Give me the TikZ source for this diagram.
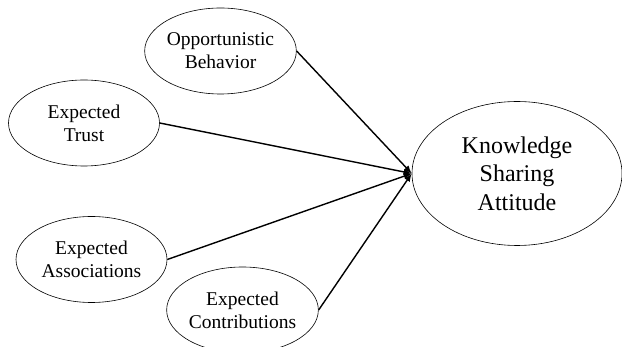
\documentclass[tikz,border=0pt]{standalone}
\usepackage{fontspec}
\setmainfont{Liberation Serif}
\usetikzlibrary{shapes.geometric,arrows.meta}
\begin{document}
\begin{tikzpicture}[x=1pt,y=-1pt,
  oval/.style={ellipse,draw,line width=0.6pt,inner sep=0pt,align=center,font=\fontsize{19.5}{23}\selectfont,minimum width=151pt,minimum height=86pt},
  bigoval/.style={ellipse,draw,line width=0.6pt,inner sep=0pt,align=center,font=\fontsize{24}{28.5}\selectfont,minimum width=210pt,minimum height=144pt},
  link/.style={line width=1.4pt,-{Latex[length=8pt,width=6.5pt]}}]
\useasboundingbox (0,0) rectangle (622,347);
\node[oval] (ob) at (220.5,51) {Opportunistic\\Behavior};
\node[oval] (et) at (84,123) {Expected\\Trust};
\node[oval] (ea) at (91.5,259.5) {Expected\\Associations};
\node[oval] (ec) at (242.5,310) {Expected\\Contributions};
\node[bigoval] (ksa) at (517,173.5) {Knowledge\\Sharing\\Attitude};
\coordinate (j) at (ksa.west);
\draw[link] (ob.east) -- (j);
\draw[link] (et.east) -- (j);
\draw[link] (ea.east) -- (j);
\draw[link] (ec.east) -- (j);
\end{tikzpicture}
\end{document}
